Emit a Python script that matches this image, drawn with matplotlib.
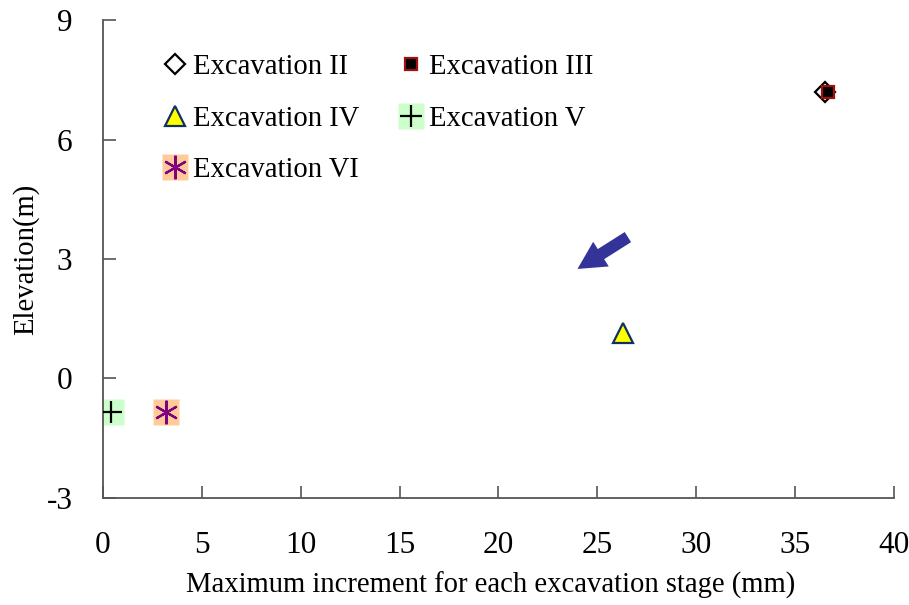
import matplotlib
matplotlib.use('Agg')
import matplotlib.pyplot as plt
from matplotlib.legend_handler import HandlerTuple

# データ
labels = ['Excavation II', 'Excavation III', 'Excavation IV', 'Excavation V', 'Excavation VI']
increment = [36.5, 36.65, 26.3, 0.4, 3.2]
elevation = [7.2, 7.2, 1.15, -0.85, -0.85]

x_ticks = [0, 5, 10, 15, 20, 25, 30, 35, 40]
y_ticks = [-3, 0, 3, 6, 9]

arrow_from = (26.55, 3.55)
arrow_to = (24.0, 2.75)

plt.rcParams['font.family'] = ['Liberation Serif', 'DejaVu Serif']
plt.rcParams['axes.unicode_minus'] = False

fig = plt.figure(figsize=(9.09, 6.05), dpi=100)
ax = fig.add_axes([0.1133, 0.1769, 0.870, 0.790])

# マーカー
h2, = ax.plot(increment[0], elevation[0], linestyle='none', marker='D', markersize=10.5,
              markerfacecolor='white', markeredgecolor='black', markeredgewidth=1.6, zorder=3)
h3, = ax.plot(increment[1], elevation[1], linestyle='none', marker='s', markersize=8,
              markerfacecolor='black', markeredgecolor='#a01010', markeredgewidth=1.6, zorder=4)
h4, = ax.plot(increment[2], elevation[2], linestyle='none', marker='^', markersize=14.5,
              markerfacecolor='#ffff00', markeredgecolor='#103060', markeredgewidth=1.6, zorder=3)
bg5, = ax.plot(increment[3], elevation[3], linestyle='none', marker='s', markersize=18.7,
               markerfacecolor='#ccffcc', markeredgecolor='none', zorder=2)
h5, = ax.plot(increment[3], elevation[3], linestyle='none', marker='+', markersize=16,
              markeredgecolor='black', markeredgewidth=1.6, zorder=3)
bg6, = ax.plot(increment[4], elevation[4], linestyle='none', marker='s', markersize=18.7,
               markerfacecolor='#ffcc99', markeredgecolor='none', zorder=2)
h6, = ax.plot(increment[4], elevation[4], linestyle='none', marker=(6, 2, 0), markersize=17,
              markeredgecolor='#800080', markeredgewidth=1.6, zorder=3)

# 矢印
ax.annotate('', xy=arrow_to, xytext=arrow_from,
            arrowprops=dict(arrowstyle='simple,head_length=1.0,head_width=1.05,tail_width=0.43',
                            color='#333399', lw=0, mutation_scale=20, shrinkA=0, shrinkB=0))

# 軸
ax.set_xlim(0, 40)
ax.set_ylim(-3, 9)
ax.set_xticks(x_ticks)
ax.set_yticks(y_ticks)
ax.spines['top'].set_visible(False)
ax.spines['right'].set_visible(False)
for s in ['left', 'bottom']:
    ax.spines[s].set_color('#555555')
    ax.spines[s].set_linewidth(1.3)
ax.tick_params(direction='in', length=9, width=1.2, color='#555555', labelsize=22.5)
ax.tick_params(axis='x', pad=24)
ax.tick_params(axis='y', pad=22)
ax.set_xlabel('Maximum increment for each excavation stage (mm)', fontsize=20.6, labelpad=8, x=0.49)
ax.set_ylabel('Elevation(m)', fontsize=20.6, labelpad=5)

# 凡例 (列優先なので並べ替え)
handles = [h2, h4, (bg6, h6), h3, (bg5, h5)]
order = [0, 2, 4, 1, 3]
leg = ax.legend(handles, [labels[i] for i in order], ncol=2, loc='upper left',
                bbox_to_anchor=(0.053, 0.964), frameon=False, fontsize=20.6,
                handlelength=0.9, handletextpad=0.18, columnspacing=1.36, labelspacing=0.88,
                borderaxespad=0.2,
                handler_map={tuple: HandlerTuple(ndivide=1, pad=0)})

fig.savefig('out.png', dpi=100)
